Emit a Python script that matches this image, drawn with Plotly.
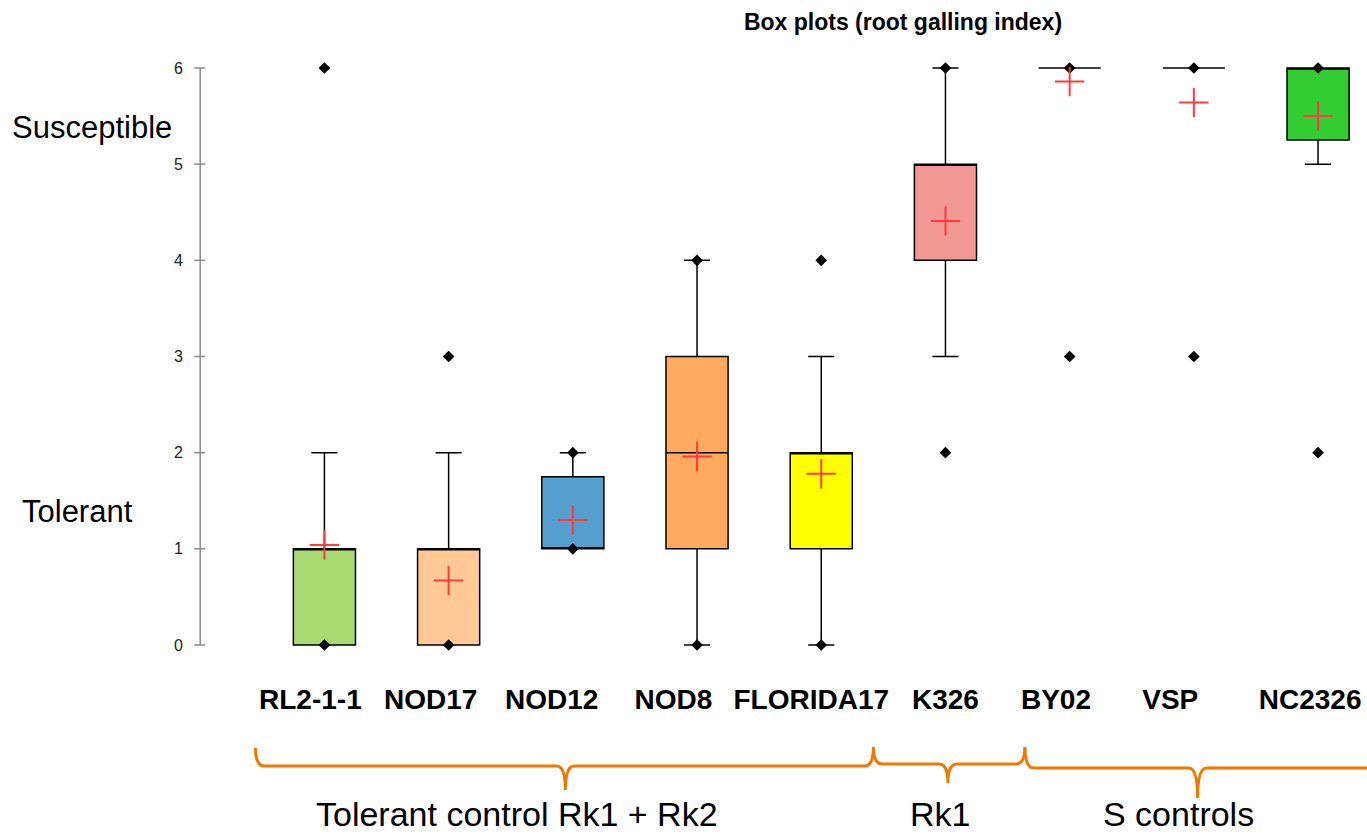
import plotly.graph_objects as go

# ---- data ----
categories = ["RL2-1-1", "NOD17", "NOD12", "NOD8", "FLORIDA17", "K326", "BY02", "VSP", "NC2326"]
q1 = [0, 0, 1, 1, 1, 4, 6, 6, 5.25]
median = [1, 1, 1, 2, 2, 5, 6, 6, 6]
q3 = [1, 1, 1.75, 3, 2, 5, 6, 6, 6]
lower_whisker = [0, 0, 1, 0, 0, 3, 6, 6, 5]
upper_whisker = [2, 2, 2, 4, 3, 6, 6, 6, 6]
minimum = [0, 0, 1, 0, 0, 2, 3, 3, 2]
maximum = [6, 3, 2, 4, 4, 6, 6, 6, 6]
means = [1.04, 0.67, 1.30, 1.96, 1.78, 4.41, 5.86, 5.64, 5.50]
fill_colors = ["#A9DA74", "#FFC896", "#559FCE", "#FFAA5E", "#FFFF00", "#F29894", "#FFFFFF", "#FFFFFF", "#33CC33"]
y_ticks = [0, 1, 2, 3, 4, 5, 6]

groups = ["Tolerant control Rk1 + Rk2", "Rk1", "S controls"]

# ---- layout geometry ----
W, H = 1367, 837
X_RANGE = [-1.05, 8.394]
Y_RANGE = [-0.156, 6.291]
M_L, M_R, M_T, M_B = 193.8, 0, 40, 177
PW = W - M_L - M_R
PH = H - M_T - M_B

# label centres are slightly offset from box centres in the original
label_offsets = [-0.113, -0.145, -0.17, -0.19, -0.08, 0.0, -0.11, -0.19, -0.064]
group_spans = [(-0.555, 4.42), (4.42, 5.64), (5.64, 8.6)]
group_centers = [1.94, 5.02, 7.03]


def px_to_paper_y(py):
    return (H - M_B - py) / PH


def px_to_paper_x(px):
    return (px - M_L) / PW


def data_to_paper_x(x):
    return (x - X_RANGE[0]) / (X_RANGE[1] - X_RANGE[0])


fig = go.Figure()

xs = list(range(len(categories)))
for i in xs:
    fig.add_trace(go.Box(
        x=[i], q1=[q1[i]], median=[median[i]], q3=[q3[i]],
        lowerfence=[lower_whisker[i]], upperfence=[upper_whisker[i]],
        width=0.5, whiskerwidth=0.42, boxpoints=False,
        fillcolor=fill_colors[i], line=dict(color="black", width=1.5),
        showlegend=False, name=categories[i]))

fig.add_trace(go.Scatter(
    x=xs + xs, y=minimum + maximum, mode="markers",
    marker=dict(symbol="diamond", size=9, color="black"),
    showlegend=False))

fig.add_trace(go.Scatter(
    x=xs, y=means, mode="markers",
    marker=dict(symbol="cross-thin", size=21, line=dict(color="#FF3B3B", width=2)),
    showlegend=False))

shapes = []
# y axis line and crossing ticks
shapes.append(dict(type="line", xref="x", yref="y", x0=-1, x1=-1, y0=y_ticks[0], y1=y_ticks[-1],
                   line=dict(color="#8A8A8A", width=1.5)))
for t in y_ticks:
    shapes.append(dict(type="line", xref="x", yref="y", x0=-1.048, x1=-0.96, y0=t, y1=t,
                       line=dict(color="#8A8A8A", width=1.5)))

# braces
brace_levels = [(748, 766, 790), (747, 764, 783), (747, 768, 798)]
dx = 9 / PW
for (x0d, x1d), xcd, (yt, yh, ytip) in zip(group_spans, group_centers, brace_levels):
    x0, x1, xc = data_to_paper_x(x0d), data_to_paper_x(x1d), data_to_paper_x(xcd)
    ytp, yhp, ytipp = px_to_paper_y(yt), px_to_paper_y(yh), px_to_paper_y(ytip)
    path = (f"M {x0},{ytp} Q {x0},{yhp} {x0+dx},{yhp} L {xc-dx},{yhp} "
            f"Q {xc},{yhp} {xc},{ytipp} Q {xc},{yhp} {xc+dx},{yhp} "
            f"L {x1-dx},{yhp} Q {x1},{yhp} {x1},{ytp}")
    shapes.append(dict(type="path", xref="paper", yref="paper", path=path,
                       line=dict(color="#F07800", width=3)))

annotations = []
group_label_x = [517, 940, 1178]
for g, gx in zip(groups, group_label_x):
    annotations.append(dict(text=g, xref="paper", yref="paper",
                            x=px_to_paper_x(gx), y=px_to_paper_y(814),
                            xanchor="center", yanchor="middle", showarrow=False,
                            font=dict(family="Liberation Sans, Arial", size=34, color="black")))
annotations.append(dict(text="Susceptible", xref="paper", yref="paper",
                        x=px_to_paper_x(10), y=px_to_paper_y(127), xanchor="left", yanchor="middle",
                        showarrow=False, font=dict(family="Liberation Sans, Arial", size=31, color="black")))
annotations.append(dict(text="Tolerant", xref="paper", yref="paper",
                        x=px_to_paper_x(20), y=px_to_paper_y(512), xanchor="left", yanchor="middle",
                        showarrow=False, font=dict(family="Liberation Sans, Arial", size=31, color="black")))

fig.update_layout(
    width=W, height=H,
    margin=dict(l=M_L, r=M_R, t=M_T, b=M_B, pad=0),
    paper_bgcolor="white", plot_bgcolor="white",
    title=dict(text="<b>Box plots (root galling index)</b>", x=903 / W, xref="container",
               xanchor="center", y=1 - 22 / H, yanchor="middle",
               font=dict(family="Liberation Sans, Arial", size=23, color="black")),
    xaxis=dict(range=X_RANGE, tickvals=[x + o for x, o in zip(xs, label_offsets)],
               ticktext=[f"<b>{c}</b>" for c in categories],
               showgrid=False, zeroline=False, showline=False, ticks="",
               ticklabelstandoff=20, ticklabeloverflow="allow",
               tickfont=dict(family="Liberation Sans, Arial", size=28, color="black")),
    yaxis=dict(range=Y_RANGE, tickvals=y_ticks, showgrid=False, zeroline=False,
               showline=False, ticks="", ticklabelstandoff=10,
               tickfont=dict(family="Liberation Sans, Arial", size=16, color="#222222")),
    shapes=shapes, annotations=annotations,
)

fig.write_html("out.html")
